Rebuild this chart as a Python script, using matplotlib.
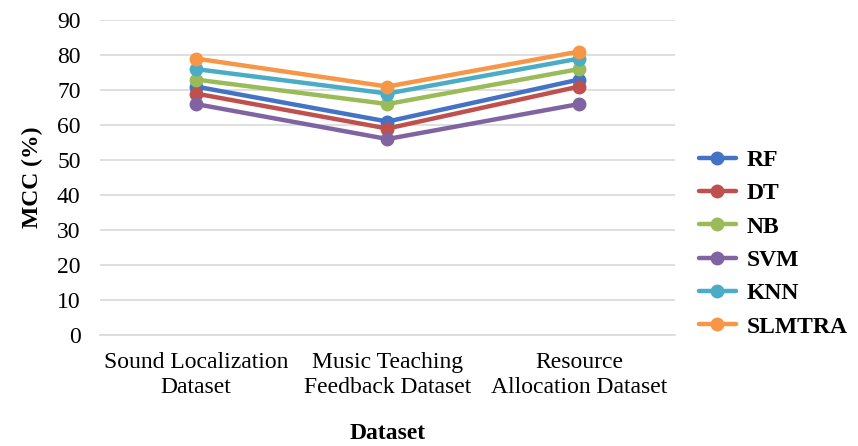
import matplotlib
matplotlib.use("Agg")
import matplotlib.pyplot as plt

categories = ["Sound Localization\nDataset", "Music Teaching\nFeedback Dataset", "Resource\nAllocation Dataset"]
series_names = ["RF", "DT", "NB", "SVM", "KNN", "SLMTRA"]
rf = [71, 61, 73]
dt = [69, 59, 71]
nb = [73, 66, 76]
svm = [66, 56, 66]
knn = [76, 69, 79]
slmtra = [79, 71, 81]
colors = ["#4472C4", "#C0504D", "#9BBB59", "#8064A2", "#4BACC6", "#F79646"]
yticks = list(range(0, 91, 10))

plt.rcParams['font.family'] = ['Liberation Serif', 'DejaVu Serif']
fig = plt.figure(figsize=(8.58, 4.46), dpi=100)
ax = fig.add_axes([0.1166, 0.249, 0.67, 0.706])

x = list(range(len(categories)))
for name, vals, c in zip(series_names, [rf, dt, nb, svm, knn, slmtra], colors):
    ax.plot(x, vals, color=c, lw=3.2, marker='o', ms=9, label=name, solid_capstyle='round')

ax.set_xlim(-0.5, 2.5)
ax.set_ylim(0, 90)
ax.set_yticks(yticks)
ax.set_xticks(x)
ax.set_xticklabels(categories, fontsize=17, linespacing=1.25)
ax.tick_params(axis='y', labelsize=17, length=0, pad=14)
ax.tick_params(axis='x', length=0, pad=12)
ax.yaxis.grid(True, color='#D9D9D9', lw=1.2)
ax.set_axisbelow(True)
for s in ['top', 'right', 'left']:
    ax.spines[s].set_visible(False)
ax.spines['bottom'].set_color('#D9D9D9')
ax.spines['bottom'].set_linewidth(1.2)

ax.set_ylabel("MCC (%)", fontsize=17, fontweight='bold', labelpad=10)
ax.set_xlabel("Dataset", fontsize=17, fontweight='bold', labelpad=18)

leg = ax.legend(loc='center left', bbox_to_anchor=(1.0, 0.29), frameon=False,
                prop={'size': 17, 'weight': 'bold'}, labelspacing=0.5,
                handlelength=1.6, handletextpad=0.45, borderaxespad=0.6)

fig.savefig("out.png", dpi=100)
